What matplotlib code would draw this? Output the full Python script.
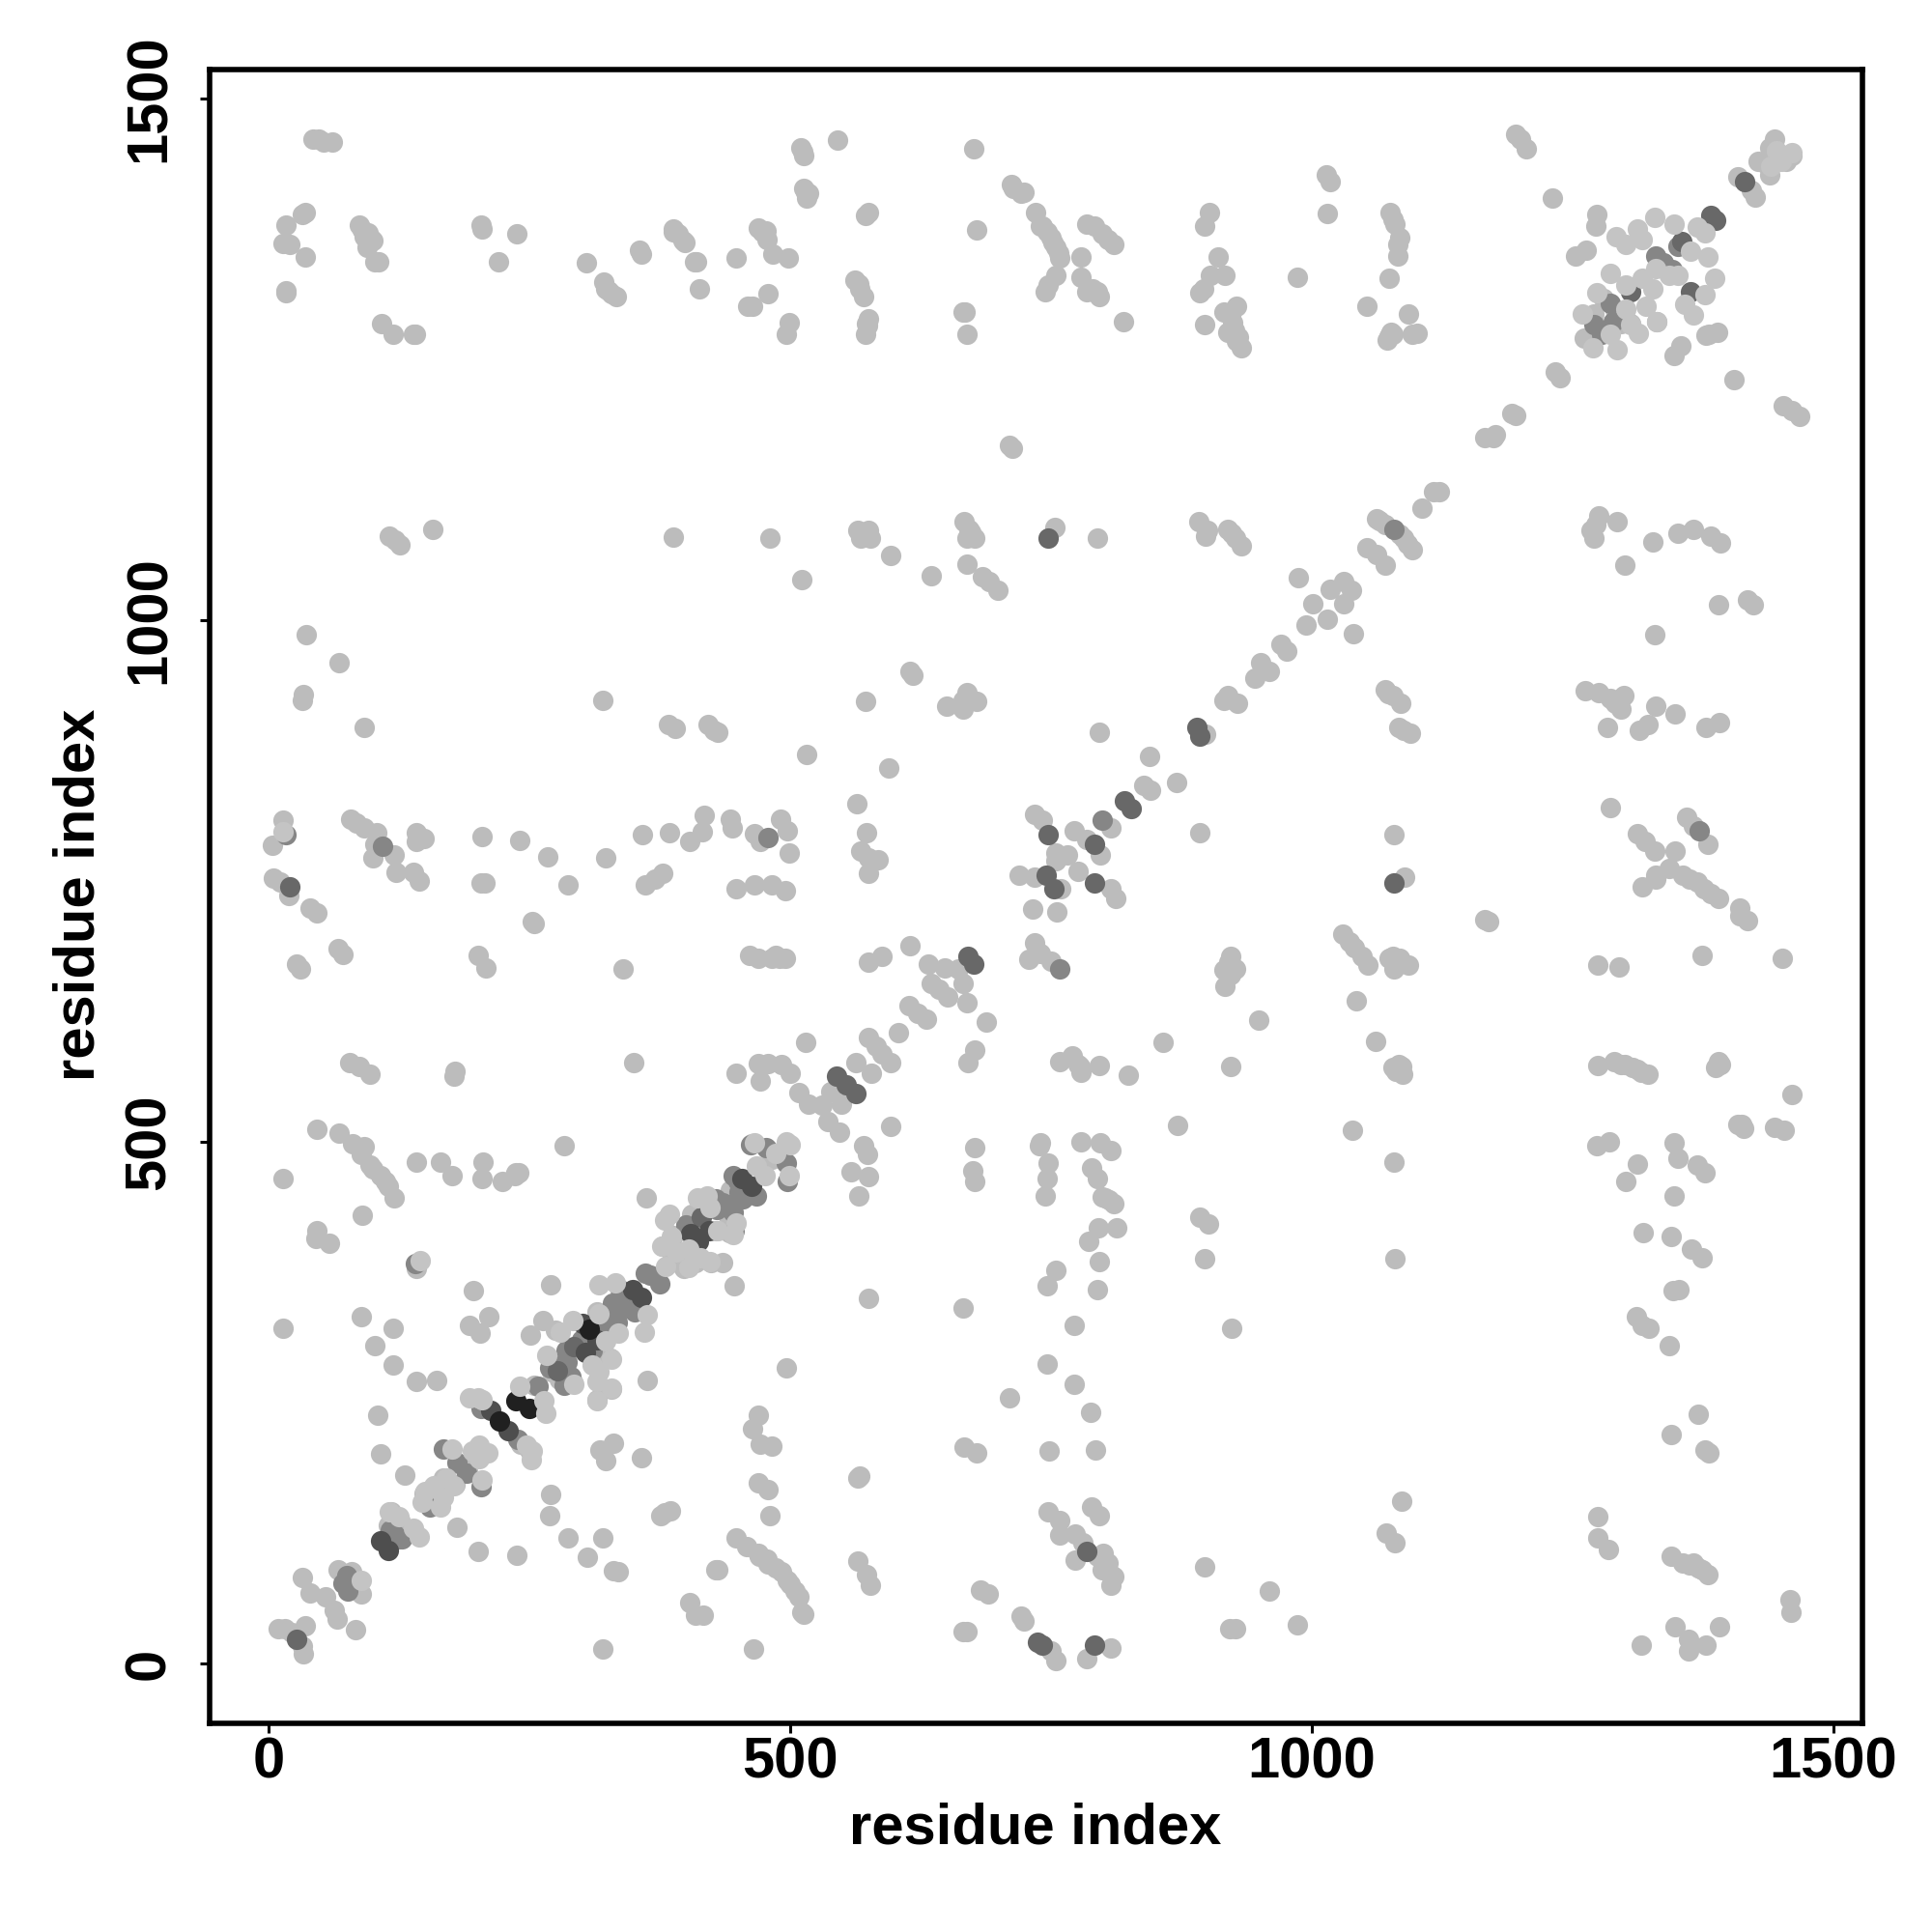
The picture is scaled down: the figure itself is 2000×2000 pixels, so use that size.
import matplotlib
matplotlib.use("Agg")
import matplotlib.pyplot as plt

plt.rcParams['font.family'] = ['Liberation Sans', 'DejaVu Sans']

# contacts, (residue i, residue j), grouped by grey level
light = [
 (48,1461),(53,1458),(61,1458),(43,1461),(35,1391),(32,1389),(17,1379),(14,1361),(20,1360),(35,1348),(17,1316),(17,1314),
 (87,1379),(90,1374),(95,1371),(100,1364),(94,1357),(102,1344),(106,1344),(108,1284),(119,1274),(141,1274),(139,1274),
 (204,1379),(205,1375),(238,1370),(220,1344),(305,1343),(356,1355),(357,1351),(321,1324),(323,1318),(329,1313),(333,1310),
 (388,1375),(393,1370),(399,1362),(408,1344),(410,1344),(413,1318),(448,1347),(469,1376),(477,1373),(478,1365),(483,1351),(498,1347),
 (479,1313),(464,1301),(459,1301),(499,1285),(496,1274),(510,1453),(513,1445),(513,1414),(518,1409),(516,1405),(545,1460),
 (575,1391),(572,1388),(562,1326),(567,1318),(570,1310),(575,1289),(573,1284),(572,1274),(668,1295),(669,1274),(666,1295),
 (676,1452),(679,1374),(712,1418),(714,1414),(721,1409),(735,1391),(740,1378),(713,1165),(710,1168),
 (116,1081),(121,1077),(126,1072),(157,1087),(388,1080),(481,1079),(565,1086),(575,1086),(568,1079),(577,1079),
 (596,1062),(511,1039),(635,1043),(667,1094),(669,1079),(677,1079),(669,1054),(684,1042),(691,1037),(699,1029),
 (36,986),(68,959),(33,929),(32,923),(92,897),(320,923),(383,900),(390,896),(421,900),(427,894),(431,893),(516,871),(594,858),
 (615,951),(618,947),(572,922),(650,918),(666,923),(666,915),(679,922),(669,931),(564,824),(573,796),(568,779),(575,772),(584,770),(575,757),
 (14,808),(4,784),(79,809),(84,806),(92,801),(104,796),(102,785),(120,775),(100,772),(122,758),(139,758),(144,750),
 (142,796),(149,791),(142,788),(205,793),(241,789),(268,773),(323,772),(204,748),(207,748),(287,746),
 (358,794),(384,796),(418,813),(416,797),(404,788),(443,809),(444,801),(466,795),(471,788),(491,809),(497,798),(499,777),
 (378,757),(370,752),(361,746),(448,743),(466,746),(482,746),(495,741),(719,756),(5,753),(11,749),(19,736),
 (40,724),(46,719),(67,685),(71,680),(27,670),(31,666),(253,711),(255,709),(201,679),(208,667),(340,666),
 (461,679),(469,676),(482,676),(495,676),(575,672),(588,678),(615,688),(632,670),(648,667),(661,666),
 (635,652),(643,646),(651,639),(666,652),(669,633),(688,615),(614,631),(622,623),(631,618),(604,605),(515,595),
 (575,600),(582,592),(596,576),(588,584),(563,576),(578,566),(677,588),(670,576),(78,576),(87,572),(97,565),(179,568),(178,563),(350,576),
 (448,566),(469,575),(479,575),(471,558),(492,574),(500,566),(508,547),(518,536),(531,535),(539,548),(549,536),(536,519),(547,509),(596,515),
 (570,496),(574,488),(575,467),(558,471),(566,448),(677,494),(675,472),(677,462),(739,496),
 (46,512),(68,508),(81,498),(89,488),(97,478),(107,468),(115,457),(120,446),(14,465),(142,481),(165,481),(176,468),
 (206,481),(205,465),(224,462),(237,470),(240,470),(283,496),(362,446),(90,430),(46,415),(45,407),(58,403),(142,379),
 (196,357),(270,363),(575,350),(666,341),(446,362),(89,332),(14,321),(119,321),(102,305),(119,286),(193,324),(203,317),(211,332),
 (142,270),(161,271),(105,238),(107,201),(131,181),(251,315),(263,329),(363,271),(315,253),(329,263),(496,283),(710,255),
 (318,205),(331,211),(323,194),(357,197),(469,238),(464,225),(471,210),(482,208),(469,173),(479,167),(481,142),(667,207),(679,202),
 (567,180),(565,178),(270,162),(269,142),(385,146),(376,142),(380,144),(181,131),(201,107),(238,104),(287,120),(320,120),(306,102),(331,89),(335,88),
 (448,120),(458,112),(469,106),(479,95),(492,88),(497,80),(505,69),(508,64),(429,90),(431,90),(513,47),(511,49),(565,98),(573,85),(577,75),
 (682,70),(690,67),(721,45),(669,31),(666,31),(404,58),(409,46),(417,46),(320,14),(465,14),
 (32,82),(40,68),(55,64),(63,51),(66,43),(83,32),(67,90),(80,88),(89,67),(9,33),(16,33),(22,30),(35,36),(32,17),(33,9),
 (118,145),(126,137),(133,129),(115,132),(149,163),(159,168),(157,155),
 (168,178),(179,171),(191,184),(183,191),(198,199),(242,210),(250,205),
 (255,267),(271,280),(279,272),(292,269),(282,290),(328,293),(275,319),(325,293),(315,337),
 (388,410),(378,400),(385,384),(398,379),(409,384),(424,384),(435,384),(398,394),(440,431),(429,415),(442,413),(406,431),
 (443,454),(463,498),(479,493),(471,475),(482,483),
 (724,1410),(742,1378),(750,1367),(755,1357),(758,1347),(755,1331),(747,1321),(744,1315),(779,1348),(779,1329),(784,1315),(794,1315),(796,1310),(790,1318),
 (784,1380),(792,1378),(799,1370),(805,1365),(810,1360),(819,1286),(902,1391),(897,1378),(910,1348),(917,1331),(903,1331),(896,1318),(893,1314),
 (897,1283),(928,1301),(916,1295),(924,1285),(919,1276),(930,1271),(932,1261),(1014,1427),(1018,1420),(1015,1390),(986,1329),
 (1075,1391),(1080,1380),(1084,1367),(1082,1349),(1074,1328),(1053,1301),(1093,1294),(1078,1274),(1072,1269),(1101,1275),(1096,1274),
 (1195,1466),(1200,1461),(1206,1452),(1231,1405),(1253,1349),(1263,1355),(1273,1389),(1272,1378),(1233,1238),(1238,1232),(1405,1231),(1452,1206),(1460,1201),(1468,1195),
 (1408,1425),(1421,1412),(1425,1406),(1428,1440),(1434,1438),(1439,1427),(1444,1461),(1449,1445),(1460,1445),(1439,1453),(1455,1440),
 (1378,1273),(1381,1274),(1389,1276),(1354,1263),(1347,1254),(1331,1286),
 (1270,1294),(1261,1270),(1280,1308),(1291,1297),(1296,1284),(1306,1284),
 (1174,1175),(1166,1175),(1176,1178),(1195,1196),(1192,1198),(1122,1123),(1117,1123),(1106,1107),(1062,1097),(1070,1092),(1088,1079),(1096,1068),(1053,1069),(1062,1063),(1070,1053),
 (987,1041),(1031,1037),(1018,1030),(1038,1029),(1031,1016),(1001,1016),(1015,1001),(994,995),(1040,987),(970,977),(976,970),(951,959),(959,951),(945,944),(919,928),(929,920),(916,923),
 (898,891),(844,869),(870,844),(839,842),(845,837),(796,893),(893,796),(734,814),(742,808),(772,798),(807,801),(784,790),(797,775),(766,775),(755,769),(776,759),(755,777),(759,743),(734,754),(807,743),(812,733),
 (1079,794),(1089,754),(1286,820),(1312,795),(1319,788),(1329,779),(1348,779),(1359,811),(1366,803),(1380,785),(1317,744),(1330,756),(1343,762),(1356,756),(1369,749),(1382,738),(1390,733),(1410,724),
 (892,1094),(898,1081),(919,1087),(927,1079),(932,1071),(754,1089),(794,1079),(1275,1100),(1293,1094),(1270,1079),(1327,1075),(1300,1053),(1351,1083),(1366,1087),(1382,1081),(1392,1074),
 (1390,1015),(1423,1015),(1418,1019),(1329,986),(1070,933),(1078,928),(1085,920),(1083,897),(1094,892),(1262,932),(1275,931),(1291,920),(1299,928),(1283,897),(1314,894),(1322,900),(1330,918),(1348,910),(1378,897),(1391,902),
 (756,720),(732,723),(734,691),(740,681),(750,673),(729,675),(922,678),(916,665),(927,666),(917,649),(1030,699),(1041,686),(1054,669),(1078,678),(1079,666),(1093,669),
 (1043,635),(1061,596),(1083,574),(1078,571),(1087,565),(1166,713),(1169,711),(1274,669),(1294,668),(1374,679),(1451,676),(1410,717),(1418,712),(949,617),(857,595),
 (758,577),(770,582),(776,574),(779,567),(796,573),(824,564),(922,572),(1274,573),(1290,577),(1307,571),(1322,565),(1390,577),(1387,571),(1460,545),(871,516),(1039,511),(1079,481),
 (1408,517),(1414,513),(1444,514),(1453,511),(740,499),(747,480),(746,465),(744,448),(779,500),(797,499),(807,492),(789,475),(794,465),(799,447),(810,441),(813,418),(795,418),(786,405),
 (796,385),(794,358),(755,377),(746,362),(772,324),(746,287),(772,268),(788,241),(748,204),(793,205),(893,428),(901,421),(897,388),(923,321),(1080,388),
 (1273,496),(1285,500),(1347,499),(1351,484),(1369,478),(1377,470),(1312,479),(1301,462),(1347,448),(1318,413),(1344,409),(1364,397),(1374,389),(1352,358),(1346,357),
 (1311,332),(1317,324),(1323,321),(1343,305),(1370,239),(1344,219),(1377,205),(1381,202),(1086,156),(1071,125),(1080,116),(1274,141),(1274,120),(1284,109),
 (1344,103),(1356,96),(1366,96),(1374,90),(1380,85),(1458,61),(1459,49),(1348,35),(1391,35),(1316,18),(1361,23),(1361,12),(1378,18),
 (897,93),(959,69),(986,37),(927,33),(921,33),(747,145),(758,137),(789,150),(796,142),(758,123),(773,124),(781,116),(773,99),(794,103),(799,90),(807,85),(810,83),(807,75),
 (750,12),(755,3),(784,5),(807,15),(724,41),
 # doubled-up contacts inside the blobs
 (512,1449),(515,1410),(326,1316),(566,1322),(574,1282),(92,1368),(98,1366),(388,1372),(397,1364),(473,1372),(752,1362),(757,1352),(746,1372),
 (922,1292),(926,1278),(928,1268),(1082,1360),(1078,1384),(1074,1272),(1076,1276),(900,1086),(923,1083),(1065,1095),(1084,1082),(1092,1073),
 (671,1087),(673,1084),(571,1084),(1268,1086),(1272,1092),(1286,925),(1295,924),(1296,915),(1073,930),(1088,894),(574,1284),
 (1074,676),(1084,676),(1080,670),(1086,572),(1296,574),(1312,569),(1316,567),(1330,752),(1362,752),(1376,743),(1300,574),(1081,568),
 (486,679),(490,676),(92,495),(100,474),(112,462),(236,468),(478,100),(486,92),(500,76),(470,103),
 (922,660),(920,672),(1412,517),(1392,574),(778,572),(802,446),(806,444),(800,106),(805,96),(1370,92),(1362,94),(1036,692),(1048,678),
]
mid = [
 (109,783),(479,792),(17,794),(71,77),(76,69),(75,84),(128,119),(120,124),(117,128),(125,119),(168,206),(181,193),(190,182),(204,169),(155,150),
 (204,244),(239,215),(258,266),(269,283),(283,267),(286,289),(324,335),(334,327),(337,358),(341,341),(351,337),(361,374),(366,372),(375,364),(141,383),
 (429,445),(435,442),(445,432),(446,415),(445,468),(451,452),(468,448),(462,497),(477,494),(496,480),(497,462),(1079,1087),(1337,1343),(1330,1349),(1345,1336),(1351,1358),
 (1286,1304),(1270,1283),(1289,1286),(1278,1274),(1371,798),(758,666),(799,808),
 (300,310),(285,300),(310,300),(330,345),(345,345),(290,275),(275,285),(440,440),(430,435),(455,445),(400,420),(450,462),(460,450),(320,325),
]
dark = [
 (670,678),(676,670),(544,563),(554,555),(563,546),(27,23),(277,281),(293,304),(20,744),(747,1079),(890,897),(893,889),(820,827),(827,819),(1079,748),
 (737,20),(742,18),(792,18),(784,107),(745,756),(753,743),(792,748),(792,785),(747,794),(1382,1388),(1387,1383),(1355,1363),(1363,1315),(1306,1315),(1415,1420),(415,428),
]
deep = [
 (107,118),(115,108),(213,243),(230,223),(304,298),(301,326),(315,310),(349,358),(357,351),(405,412),(412,405),(422,415),(454,465),(463,457),
]
darkest = [
 (221,232),(237,252),(250,244),(307,320),
]
# pale contacts that sit on top of the darker ones
top_light = [
 (193,255),(201,255),(205,253),(247,209),(253,204),(252,195),(241,266),(264,252),(266,240),(293,268),(267,295),(280,318),(292,329),(323,309),(329,292),
 (317,280),(310,286),(315,270),(329,264),(315,252),(335,317),(317,363),(332,365),(363,334),(360,318),(317,335),(384,431),(380,425),(386,409),(377,400),
 (391,394),(381,381),(403,380),(414,389),(423,385),(403,397),(176,206),(202,209),(210,202),(202,196),(195,204),(178,170),(170,178),(205,176),(150,165),
 (158,170),(168,159),(165,150),(147,155),(116,145),(125,141),(139,130),(144,121),(145,386),(448,422),(445,411),(431,415),(411,446),(420,448),(423,437),
 (476,468),(468,477),(466,499),(496,500),(500,497),(486,489),(499,468),(14,797),(89,80),
 (1369,1377),(1377,1371),(1363,1354),(1380,1348),(1386,1328),(1377,1312),(1357,1303),(1366,1293),(1329,1386),(1347,1380),(1312,1375),(1317,1365),(1292,1368),(1301,1360),
 (1351,1331),(1343,1331),(1330,1337),(1286,1332),(1301,1321),(1317,1328),(1327,1318),(1320,1301),(1331,1286),(1259,1294),(1273,1314),(1301,1298),(1306,1283),(1313,1275),
 (1269,1261),(1293,1259),(1286,1274),(1445,1450),(1460,1448),(1440,1435),(1450,1440),
]

tick_vals = [0, 500, 1000, 1500]
x_label = "residue index"
y_label = "residue index"

fig = plt.figure(figsize=(10, 10), dpi=200)
ax = fig.add_axes([217/2000, 1 - 1784/2000, (1928 - 217)/2000, (1784 - 72)/2000])

groups = [(light, "#BCBCBC"), (mid, "#868686"), (dark, "#686868"), (deep, "#4E4E4E"), (darkest, "#202020"), (top_light, "#C4C4C4")]
for pts, col in groups:
    xs = [p[0] for p in pts]
    ys = [p[1] for p in pts]
    ax.scatter(xs, ys, s=58, c=col, linewidths=0, zorder=2)

ax.set_xlim(-56.5, 1527.8)
ax.set_ylim(-57.4, 1527.8)
ax.set_xticks(tick_vals)
ax.set_yticks(tick_vals)
ax.tick_params(axis="both", length=3.5, width=1.1, labelsize=21.5)
ax.tick_params(axis="x", pad=1.5)
ax.tick_params(axis="y", pad=9)
for lab in ax.get_xticklabels():
    lab.set_fontweight("bold")
for lab in ax.get_yticklabels():
    lab.set_fontweight("bold")
    lab.set_rotation(90)
    lab.set_va("center")
for s in ax.spines.values():
    s.set_linewidth(2)

fig.text(1072/2000, 1 - 1893/2000, x_label, fontsize=21.5, fontweight="bold", ha="center", va="center")
fig.text(82/2000, 1 - 926/2000, y_label, fontsize=21.5, fontweight="bold", ha="center", va="center", rotation=90)

fig.savefig("out.png", dpi=200, facecolor="white")
plt.close()
